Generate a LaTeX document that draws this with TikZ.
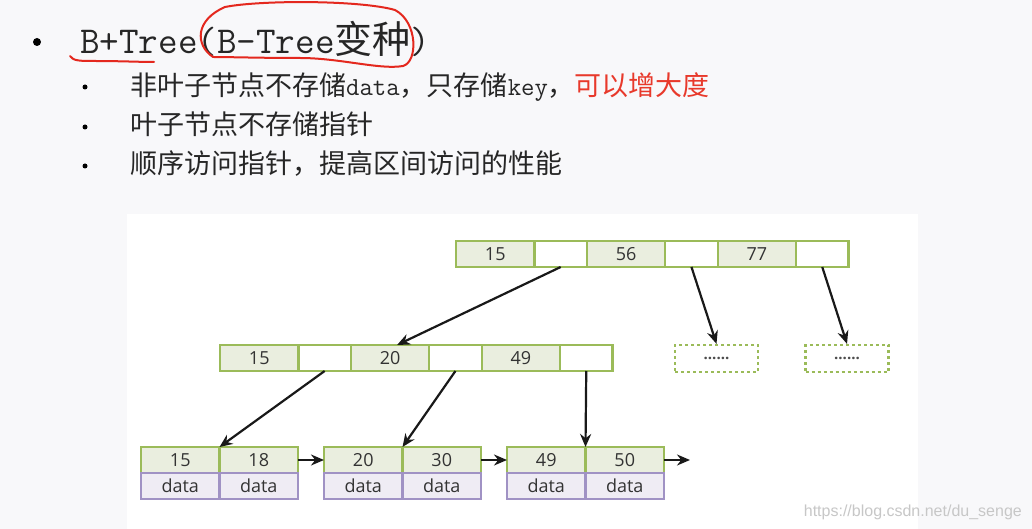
\documentclass[tikz,border=0pt]{standalone}
\usepackage{fontspec}
\setmainfont{Liberation Serif}
\newfontfamily\cjk{Noto Sans CJK SC}
\newfontfamily\diag{Open Sans}
\newfontfamily\wmfont{Liberation Sans}
\usetikzlibrary{arrows.meta, positioning, calc}
\definecolor{pagegray}{RGB}{248, 248, 250}
\definecolor{keyfill}{RGB}{234, 238, 223}
\definecolor{keygreen}{RGB}{155, 187, 89}
\definecolor{datafill}{RGB}{239, 236, 244}
\definecolor{datapurple}{RGB}{160, 146, 196}
\definecolor{penred}{RGB}{228, 40, 30}
\definecolor{redtext}{RGB}{232, 57, 43}
\newcommand{\tlat}{\ttfamily\fontsize{38}{40}\selectfont}
\newcommand{\tcjk}{\cjk\fontsize{38}{40}\selectfont}
\newcommand{\slat}{\ttfamily\fontsize{26}{28}\selectfont}
\newcommand{\scjk}{\cjk\fontsize{27}{30}\selectfont}

\begin{document}
\begin{tikzpicture}[
  x=1pt, y=-1pt,
  keycell/.style = {rectangle, draw=keygreen, fill=keyfill, line width=2.2pt,
                    minimum width=78.5pt, minimum height=26pt, inner sep=0pt, outer sep=0pt,
                    font=\diag\fontsize{18}{18}\selectfont, text=black!80},
  ptrcell/.style = {keycell, fill=white, minimum width=52.3pt},
  datacell/.style = {keycell, draw=datapurple, fill=datafill},
  dotbox/.style = {rectangle, draw=keygreen, dashed, line width=2.2pt, fill=white,
                   minimum width=83pt, minimum height=27pt, inner sep=0pt,
                   font=\diag\bfseries\fontsize{15}{15}\selectfont, text=black!70},
  line/.style = {anchor=base west, inner sep=0pt, text=black!85},
  bigdot/.style = {circle, fill=black, inner sep=0pt, minimum size=8pt},
  smalldot/.style = {circle, fill=black, inner sep=0pt, minimum size=5pt},
  arr/.style = {-{Stealth[length=13pt, width=11pt]}, line width=2.2pt, black!90},
  pen/.style = {penred, line width=2pt, line cap=round}
]
\useasboundingbox[fill=pagegray] (0,0) rectangle (1032,529);
\fill[white] (127,214) rectangle (918,529);

\node[bigdot] (b0) at (37,42) {};
\node[line] (title) at (80,54) {{\tlat B+Tree(B-Tree}{\tcjk 变种}{\tlat )}};
\node[smalldot] (b1) at (85,87) {};
\node[smalldot] (b2) at (85,127) {};
\node[smalldot] (b3) at (85,166) {};
\node[line] (s1) at (130,96) {{\scjk 非叶子节点不存储}{\slat data}{\scjk ，只存储}{\slat key}{\scjk ，}{\scjk\color{redtext}可以增大度}};
\node[line] (s2) at (130,135) {\scjk 叶子节点不存储指针};
\node[line] (s3) at (130,174) {\scjk 顺序访问指针，提高区间访问的性能};

\draw[pen] (70,56) .. controls (73,61) and (80,61) .. (95,61) .. controls (120,61) and (140,62) .. (154,62);
\draw[pen] (213,57) .. controls (195,45) and (195,20) .. (225,7) .. controls (260,0) and (360,0) .. (395,10)
  .. controls (418,22) and (418,62) .. (403,66) .. controls (380,70) and (340,58) .. (300,58)
  .. controls (260,58) and (230,57) .. (213,57);

\node[keycell] (t1) at (495.25,254) {15};
\node[ptrcell, right=0pt of t1] (t2) {};
\node[keycell, right=0pt of t2] (t3) {56};
\node[ptrcell, right=0pt of t3] (t4) {};
\node[keycell, right=0pt of t4] (t5) {77};
\node[ptrcell, right=0pt of t5] (t6) {};

\node[keycell] (m1) at (259.25,358) {15};
\node[ptrcell, right=0pt of m1] (m2) {};
\node[keycell, right=0pt of m2] (m3) {20};
\node[ptrcell, right=0pt of m3] (m4) {};
\node[keycell, right=0pt of m4] (m5) {49};
\node[ptrcell, right=0pt of m5] (m6) {};

\node[dotbox] (d1) at (716.5,358.5) {......};
\node[dotbox] (d2) at (847,358.5) {......};

\node[keycell] (l1a) at (180.25,460) {15};
\node[keycell, right=0pt of l1a] (l1b) {18};
\node[datacell, below=0pt of l1a] (l1x) {data};
\node[datacell, below=0pt of l1b] (l1y) {data};
\node[keycell] (l2a) at (363.25,460) {20};
\node[keycell, right=0pt of l2a] (l2b) {30};
\node[datacell, below=0pt of l2a] (l2x) {data};
\node[datacell, below=0pt of l2b] (l2y) {data};
\node[keycell] (l3a) at (546.25,460) {49};
\node[keycell, right=0pt of l3a] (l3b) {50};
\node[datacell, below=0pt of l3a] (l3x) {data};
\node[datacell, below=0pt of l3b] (l3y) {data};
\coordinate (lend) at (690,460);

\draw[arr] (t2.south) -- ([xshift=7pt]m3.north);
\draw[arr] (t4.south) -- (d1.north);
\draw[arr] (t6.south) -- (d2.north);
\draw[arr] (m2.south) -- (l1a.north east);
\draw[arr] (m4.south) -- (l2a.north east);
\draw[arr] (m6.south) -- (l3a.north east);
\draw[arr] (l1b.east) -- (l2a.west);
\draw[arr] (l2b.east) -- (l3a.west);
\draw[arr] (l3b.east) -- (lend);

\node[anchor=base east, inner sep=0pt, text=black!22, font=\wmfont\fontsize{16}{16}\selectfont] (wm) at (1022,516) {https://blog.csdn.net/du\_senge};
\end{tikzpicture}
\end{document}
